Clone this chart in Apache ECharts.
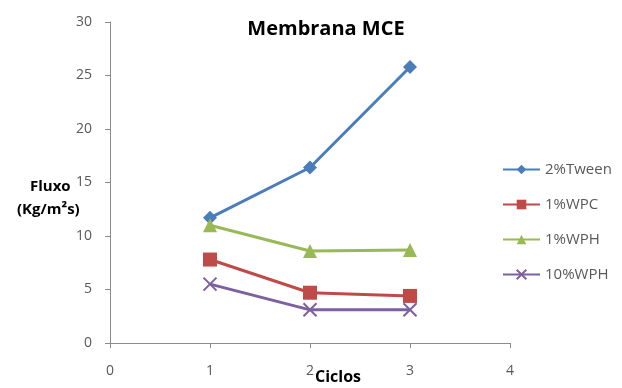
<!DOCTYPE html>
<html>
<head>
<meta charset="utf-8">
<script src="https://cdn.jsdelivr.net/npm/echarts@6/dist/echarts.min.js"></script>
<style>
  html, body { margin: 0; padding: 0; background: #fff; }
  #chart { width: 622px; height: 388px; }
</style>
</head>
<body>
<div id="chart"></div>
<script>
// Ciclos (x) and flux values per formulation
const cycles = [1, 2, 3];
const tween2 = [11.7, 16.4, 25.8];
const wpc1 = [7.8, 4.7, 4.4];
const wph1 = [11.0, 8.6, 8.7];
const wph10 = [5.5, 3.1, 3.1];
const seriesNames = ['2%Tween', '1%WPC', '1%WPH', '10%WPH'];
const yTicks = [0, 5, 10, 15, 20, 25, 30];
const xTicks = [0, 1, 2, 3, 4];

const colors = ['#4A7EBB', '#BE4B48', '#98B954', '#7D60A0'];
const crossPath = 'path://M0,0 L10,10 M10,0 L0,10';

function pairs(vals) {
  return cycles.map((c, i) => [c, vals[i]]);
}

const seriesDefs = [
  { vals: tween2, symbol: 'diamond', size: 14 },
  { vals: wpc1, symbol: 'rect', size: 14 },
  { vals: wph1, symbol: 'triangle', size: 14 },
  { vals: wph10, symbol: crossPath, size: 13 }
];

const chart = echarts.init(document.getElementById('chart'));
chart.setOption({
  animation: false,
  color: colors,
  textStyle: { fontFamily: 'Open Sans, Lato, sans-serif' },
  title: {
    text: 'Membrana MCE',
    left: 321, top: 14, textAlign: 'center',
    textStyle: { fontSize: 20, fontWeight: 'bold', color: '#000' }
  },
  grid: { left: 110, right: 112, top: 22, bottom: 45 },
  xAxis: {
    type: 'value', min: xTicks[0], max: xTicks[xTicks.length - 1], interval: 1,
    axisLine: { lineStyle: { color: '#8c8c8c', width: 1 } },
    axisTick: { show: true, length: 5, lineStyle: { color: '#8c8c8c' } },
    axisLabel: { color: '#595959', fontSize: 14, margin: 21 },
    splitLine: { show: false }
  },
  yAxis: {
    type: 'value', min: yTicks[0], max: yTicks[yTicks.length - 1], interval: 5,
    axisLine: { show: true, lineStyle: { color: '#8c8c8c', width: 1 } },
    axisTick: { show: true, length: 5, lineStyle: { color: '#8c8c8c' } },
    axisLabel: { color: '#595959', fontSize: 14, margin: 18 },
    splitLine: { show: false }
  },
  legend: {
    orient: 'vertical', left: 497, top: 157,
    itemWidth: 37, itemHeight: 12, itemGap: 20,
    textStyle: { color: '#595959', fontSize: 15 },
    data: seriesNames
  },
  graphic: [
    { type: 'text', left: 30, top: 179, style: { text: 'Fluxo', font: 'bold 15px "Open Sans", sans-serif', fill: '#000' } },
    { type: 'text', left: 17, top: 202, style: { text: '(Kg/m²s)', font: 'bold 15px "Open Sans", sans-serif', fill: '#000' } },
    { type: 'text', left: 315, top: 369, style: { text: 'Ciclos', font: 'bold 16px "Open Sans", sans-serif', fill: '#000' } }
  ],
  series: seriesDefs.map((d, i) => ({
    name: seriesNames[i],
    type: 'line',
    data: pairs(d.vals),
    symbol: d.symbol,
    symbolSize: d.size,
    lineStyle: { width: 3, color: colors[i] },
    itemStyle: i === 3
      ? { color: colors[i], borderColor: colors[i], borderWidth: 2 }
      : { color: colors[i] }
  }))
});
</script>
</body>
</html>
